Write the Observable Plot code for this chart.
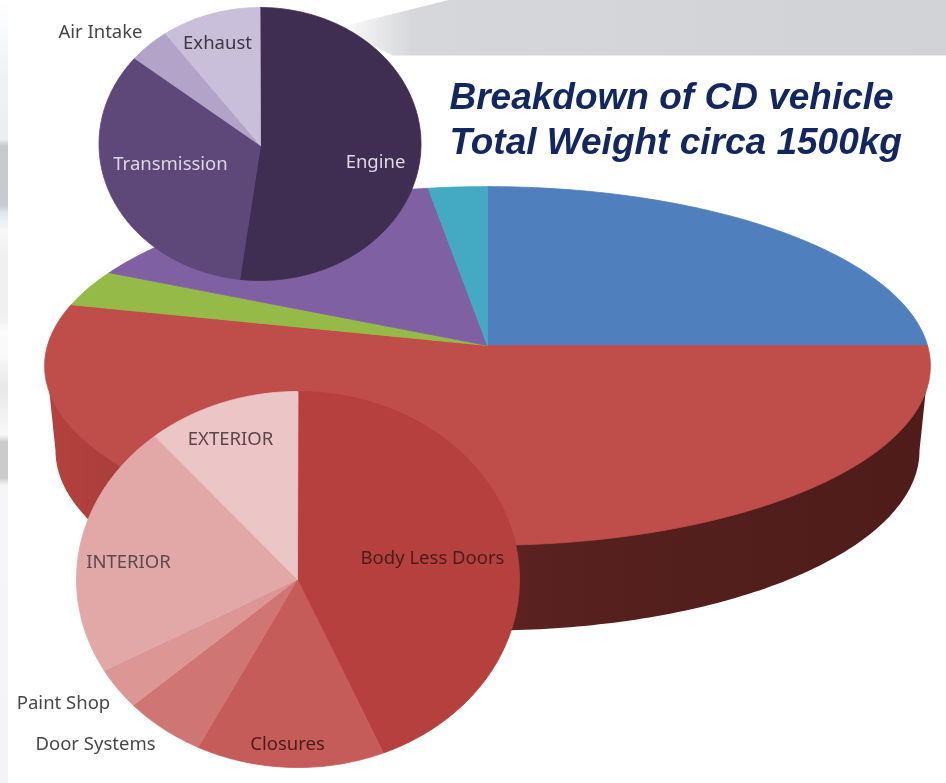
<!DOCTYPE html>
<html>
<head>
<meta charset="utf-8">
<style>html,body{margin:0;padding:0;background:#fff;overflow:hidden}svg{display:block}</style>
<script src="https://cdn.jsdelivr.net/npm/d3@7"></script>
<script src="https://cdn.jsdelivr.net/npm/@observablehq/plot@0.6"></script>
</head>
<body>
<div id="chart"></div>
<script>
// Main pie, clockwise from 12 o'clock (percent of total weight)
const mainNames  = ["Blue", "Red", "Green", "Purple", "Teal"];
const mainValues = [25, 53.8, 3.3, 15.5, 2.4];
const mainColors = ["#4f7fbd", "#bf4d4a", "#96ba47", "#7f60a3", "#44a9c2"];

// Upper inset pie
const powerNames  = ["Engine", "Transmission", "Air Intake", "Exhaust"];
const powerValues = [52, 33.8, 4.2, 10];
const powerColors = ["#402e52", "#5e4779", "#b2a3c8", "#c9bfdb"];
const powerLabelX = [375, 170, 100, 217];
const powerLabelY = [162, 164, 32, 43];
const powerLabelColors = ["#ddd8e4", "#ddd8e4", "#454545", "#3d3644"];

// Lower inset pie
const bodyNames  = ["Body Less Doors", "Closures", "Door Systems", "Paint Shop", "INTERIOR", "EXTERIOR"];
const bodyValues = [43.7, 13.75, 5.9, 3.6, 21.85, 11.2];
const bodyColors = ["#b5403d", "#c65c5a", "#cf7674", "#dc9694", "#e2a8a7", "#ecc6c6"];
const bodyLabelX = [432, 287, 95, 63, 128, 230];
const bodyLabelY = [558, 744, 744, 703, 562, 439];
const bodyLabelColors = ["#4a1c1a", "#4a1c1a", "#484848", "#484848", "#5a4a4c", "#5a4548"];

const titleLines = ["Breakdown of CD vehicle", "Total Weight circa 1500kg"];
const titleY = [97, 142];

// Slide background pieces
const bandX = [338, 462, 950, 950, 392];
const bandY = [27, -4, -4, 55, 55];
const stripOffsets = [0, 0.1, 0.178, 0.186, 0.262, 0.272, 0.295, 0.325, 0.405, 0.425, 0.455, 0.49, 0.5, 0.555, 0.565, 0.61, 0.62, 1];
const stripColors = ["#ffffff", "#eef2f6", "#eceef1", "#c8c9cc", "#c8cad0", "#dfe8f0", "#f7f8f9", "#f0f0f1", "#f0f0f1", "#fbfbfb", "#f9f9f9", "#e9e9ea", "#e9e9ea", "#f8f8f8", "#cbcbcc", "#cbcbcc", "#f6f6f8", "#f4f4f7"];

const step = 1; // degrees between outline samples
const rad = d => d * Math.PI / 180;

function outline(names, values, colors, point) {
  const total = d3.sum(values);
  const rows = [];
  let start = 0;
  values.forEach((v, i) => {
    const end = start + v / total * 360;
    rows.push({slice: names[i], color: colors[i], ...point(null)});
    const n = Math.max(2, Math.ceil((end - start) / step));
    for (let k = 0; k <= n; ++k) rows.push({slice: names[i], color: colors[i], ...point(start + (end - start) * k / n)});
    rows.push({slice: names[i], color: colors[i], ...point(null)});
    start = end;
  });
  return rows;
}

// Flat inset: ellipse with its own centre and radii
const flat = (cx, cy, rx, ry, ax, ay) => a => a === null
  ? {x: ax, y: ay}
  : {x: cx + rx * Math.sin(rad(a)), y: cy - ry * Math.cos(rad(a))};

// Tilted pie: a circle seen in perspective, so the front slices look larger
const tilted = (cx, cy, R, V, k) => a => {
  if (a === null) return {x: cx, y: cy};
  const X = Math.sin(rad(a)), Y = Math.cos(rad(a)), w = 1 + k * Y;
  return {x: cx + R * X / w, y: cy - V * Y / w};
};

const mainRows  = outline(mainNames, mainValues, mainColors, tilted(487, 345, 440, 177, 0.114));
const powerRows = outline(powerNames, powerValues, powerColors, flat(259.5, 143.5, 161, 136.5, 260, 145));
const bodyRows  = outline(bodyNames, bodyValues, bodyColors, flat(297.5, 579, 221.5, 188, 297, 579));

// Wall of the tilted pie: between the front rim and the same rim lower down
const wallRows = [];
for (let t = 0; t <= 180; ++t) wallRows.push({x: 487 + 441 * Math.cos(rad(t)), y: 364 + 178 * Math.sin(rad(t))});
for (let t = 180; t >= 0; --t) wallRows.push({x: 487 + 432 * Math.cos(rad(t)), y: 450 + 180 * Math.sin(rad(t))});

const band = bandX.map((x, i) => ({x, y: bandY[i]}));
const table = (names, xs, ys, colors) => names.map((name, i) => ({name, x: xs[i], y: ys[i], color: colors[i]}));
const labels = [
  ...table(powerNames, powerLabelX, powerLabelY, powerLabelColors),
  ...table(bodyNames, bodyLabelX, bodyLabelY, bodyLabelColors)
];
const title = titleLines.map((text, i) => ({text, y: titleY[i]}));

const defs = () => {
  const svg = d3.create("svg:defs");
  const wall = svg.append("linearGradient").attr("id", "wall");
  [[0, "#b5423f"], [0.1, "#a83c3a"], [0.5, "#5e2321"], [0.62, "#55201d"], [1, "#4f1c1a"]]
    .forEach(([o, c]) => wall.append("stop").attr("offset", o).attr("stop-color", c));
  const fade = svg.append("linearGradient").attr("id", "band");
  [[0, "#ffffff"], [0.03, "#f4f4f5"], [0.12, "#d6d7da"], [1, "#d1d2d5"]]
    .forEach(([o, c]) => fade.append("stop").attr("offset", o).attr("stop-color", c));
  const strip = svg.append("linearGradient").attr("id", "strip").attr("x2", 0).attr("y2", 1);
  stripOffsets.forEach((o, i) => strip.append("stop").attr("offset", o).attr("stop-color", stripColors[i]));
  return svg.node();
};

const slices = rows => Plot.line(rows, {x: "x", y: "y", z: "slice", fill: "color", stroke: "color", strokeWidth: 0.8});

const chart = Plot.plot({
  width: 946, height: 783,
  margin: 0,
  x: {domain: [0, 946], range: [0, 946], axis: null},
  y: {domain: [0, 783], range: [0, 783], axis: null},
  color: {type: "identity"},
  style: {background: "#fff", filter: "blur(0.5px)"},
  marks: [
    defs,
    Plot.rect([0], {x1: 0, x2: 8, y1: 0, y2: 783, fill: "url(#strip)"}),
    Plot.line(band, {x: "x", y: "y", fill: "url(#band)", stroke: "none"}),
    Plot.line(wallRows, {x: "x", y: "y", fill: "url(#wall)", stroke: "none"}),
    slices(mainRows),
    slices(powerRows),
    slices(bodyRows),
    Plot.text(labels, {x: "x", y: "y", text: "name", fill: "color", fontSize: 18.5, fontFamily: "Noto Sans", textAnchor: "middle", lineAnchor: "middle"}),
    Plot.text(title, {x: 449, y: "y", text: "text", fill: "#12275f", fontSize: 37, fontFamily: "Liberation Sans", fontWeight: "bold", fontStyle: "italic", textAnchor: "start", lineAnchor: "middle"})
  ]
});
document.getElementById("chart").append(chart);
</script>
</body>
</html>
